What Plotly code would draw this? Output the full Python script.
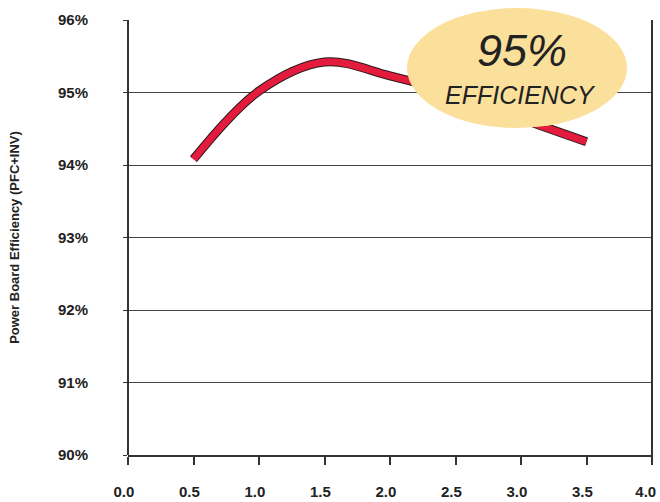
import plotly.graph_objects as go

load_kw = [0.5, 1.0, 1.5, 2.0, 2.5, 3.0, 3.5]
efficiency = [94.08, 95.02, 95.42, 95.23, 94.98, 94.64, 94.32]
x_ticks = [0.0, 0.5, 1.0, 1.5, 2.0, 2.5, 3.0, 3.5, 4.0]
y_ticks = [90, 91, 92, 93, 94, 95, 96]
y_labels = [f"{v}%" for v in y_ticks]
x_labels = [f"{v:.1f}\u00a0\u00a0" for v in x_ticks]
x_labels[-1] = "4.0\u00a0\u00a0\u00a0"

W, H = 660, 502
L, R, T, B = 128, 8, 20, 47
FONT = "Liberation Sans"

fig = go.Figure()
fig.add_trace(go.Scatter(x=load_kw, y=efficiency, mode="lines",
                         line=dict(color="#2a1a1a", width=9, shape="spline", smoothing=1.0),
                         hoverinfo="skip", showlegend=False))
fig.add_trace(go.Scatter(x=load_kw, y=efficiency, mode="lines",
                         line=dict(color="#e31b3c", width=7, shape="spline", smoothing=1.0),
                         showlegend=False))

plot_w = W - L - R
plot_h = H - T - B

fig.update_layout(
    width=W, height=H,
    margin=dict(l=L, r=R, t=T, b=B, pad=0, autoexpand=False),
    plot_bgcolor="white", paper_bgcolor="white",
    font=dict(family=FONT, color="#222"),
    xaxis=dict(range=[0, 4], domain=[0, 1], tickvals=x_ticks, ticktext=x_labels,
               showgrid=False, zeroline=True, zerolinecolor="#333", zerolinewidth=2,
               showline=True, linecolor="#333", linewidth=2,
               ticks="outside", ticklen=8, tickwidth=2, tickcolor="#333",
               tickfont=dict(family=FONT, size=15, color="#222", weight="bold"),
               ticklabelstandoff=14, ticklabeloverflow="allow", automargin=False,
               fixedrange=True),
    yaxis=dict(range=[90, 96], tickvals=y_ticks, ticktext=y_labels,
               showgrid=True, gridcolor="#444", gridwidth=1, zeroline=False,
               showline=False, ticks="outside", ticklen=4, tickwidth=1, tickcolor="#333",
               tickfont=dict(family=FONT, size=15, color="#222", weight="bold"),
               ticklabelstandoff=32, automargin=False,
               title=dict(text="Power Board Efficiency (PFC+INV)", standoff=35,
                          font=dict(family=FONT, size=13, color="#222", weight="bold")),
               fixedrange=True),
)

# right frame line
fig.add_shape(type="line", xref="x domain", yref="y domain", x0=1, x1=1, y0=-0.015, y1=1,
              line=dict(color="#333", width=2), layer="above")

# ellipse badge (positions given in window pixels)
def px_x(p):
    return (p - L) / plot_w
def px_y(p):
    return 1 - (p - T) / plot_h

fig.add_shape(type="circle", xref="paper", yref="paper",
              x0=px_x(407), x1=px_x(627), y0=px_y(128), y1=px_y(8),
              fillcolor="#fbe09c", line=dict(width=0), layer="above")
fig.add_annotation(xref="paper", yref="paper", x=px_x(522), y=px_y(51), text="<i>95%</i>",
                   xanchor="center", yanchor="middle",
                   showarrow=False, font=dict(family=FONT, size=45, color="#222"))
fig.add_annotation(xref="paper", yref="paper", x=px_x(520), y=px_y(95), text="<i>EFFICIENCY</i>",
                   xanchor="center", yanchor="middle",
                   showarrow=False, font=dict(family=FONT, size=25, color="#222"))

fig.write_html("out.html", config={"displayModeBar": False},
               post_script="document.body.style.margin='0';document.body.style.overflow='hidden';")
